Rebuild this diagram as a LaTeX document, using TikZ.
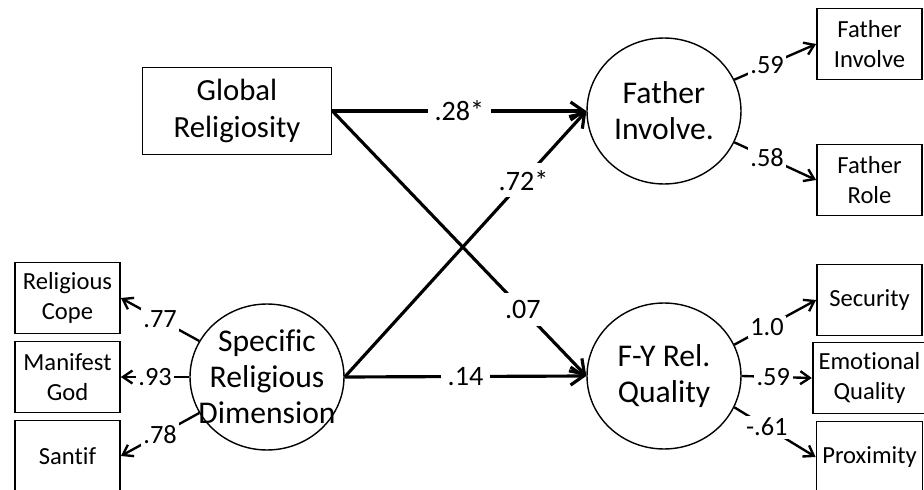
\documentclass[tikz,border=0pt]{standalone}
\usepackage{fontspec}
\setmainfont{Carlito}[Ligatures=NoCommon]
\usetikzlibrary{shapes.geometric, arrows.meta}

\begin{document}
\begin{tikzpicture}[x=0.02cm, y=-0.02cm,
    bigbox/.style={draw, line width=1pt, minimum width=3.78cm, minimum height=1.74cm, align=center, font=\fontsize{17.5}{21.5}\selectfont},
    latent/.style={draw, ellipse, line width=0.8pt, minimum width=3.08cm, minimum height=2.92cm, inner sep=0pt},
    latext/.style={align=center, font=\fontsize{18}{20.5}\selectfont},
    obsbox/.style={draw, line width=1pt, minimum width=2.1cm, minimum height=1.42cm, align=center, font=\fontsize{14}{17}\selectfont},
    mainpath/.style={-{Straight Barb[length=2.6mm, width=3.6mm]}, line width=1.8pt},
    loadpath/.style={-{Straight Barb[length=1.9mm, width=2.6mm]}, line width=1.35pt},
    plab/.style={fill=white, inner sep=4pt, font=\fontsize{16}{18}\selectfont},
    llab/.style={fill=white, inner sep=1.5pt, font=\fontsize{15}{16}\selectfont}]
    \useasboundingbox (0,0) rectangle (924,490);

    % Predictors
    \node[bigbox] (glob) at (237,111) {Global\\Religiosity};
    \node[latent, label={[latext]center:Specific\\Religious\\Dimension}] (spec) at (267,377) {};

    % Outcomes
    \node[latent, label={[latext]center:Father\\Involve.}] (finv) at (664,111) {};
    \node[latent, label={[latext]center:F-Y Rel.\\Quality}] (fyq) at (664,376) {};

    % Indicators - left
    \node[obsbox] (rcope) at (67.5,298) {Religious\\Cope};
    \node[obsbox] (mgod) at (67.5,377) {Manifest\\God};
    \node[obsbox] (santif) at (67.5,456) {Santif};

    % Indicators - right
    \node[obsbox] (finvobs) at (869.5,44) {Father\\Involve};
    \node[obsbox] (frole) at (869.5,180) {Father\\Role};
    \node[obsbox] (secur) at (869.5,300) {Security};
    \node[obsbox] (emoq) at (869.5,378) {Emotional\\Quality};
    \node[obsbox] (proxi) at (869.5,457) {Proximity};

    % Structural paths
    \draw[mainpath] (glob.east) -- node[plab] {.28*} (finv.west);
    \draw[mainpath] (glob.east) -- node[plab, pos=0.75] {.07} (fyq.west);
    \draw[mainpath] (spec.east) -- node[plab, pos=0.74] {.72*} (finv.west);
    \draw[mainpath] (spec.east) -- node[plab] {.14} (fyq.west);

    % Loadings
    \draw[loadpath] (spec.152) -- node[llab] {.77} (rcope.east);
    \draw[loadpath] (spec.west) -- node[llab] {.93} (mgod.east);
    \draw[loadpath] (spec.208) -- node[llab] {.78} (santif.east);
    \draw[loadpath] (finv.24) -- node[llab, pos=0.4] {.59} (finvobs.west);
    \draw[loadpath] (finv.-24) -- node[llab, pos=0.4] {.58} (frole.west);
    \draw[loadpath] (fyq.24) -- node[llab, pos=0.4] {1.0} (secur.west);
    \draw[loadpath] (fyq.east) -- node[llab, pos=0.45] {.59} (emoq.west);
    \draw[loadpath] (fyq.-24) -- node[llab, pos=0.4] {-.61} (proxi.west);
\end{tikzpicture}
\end{document}
